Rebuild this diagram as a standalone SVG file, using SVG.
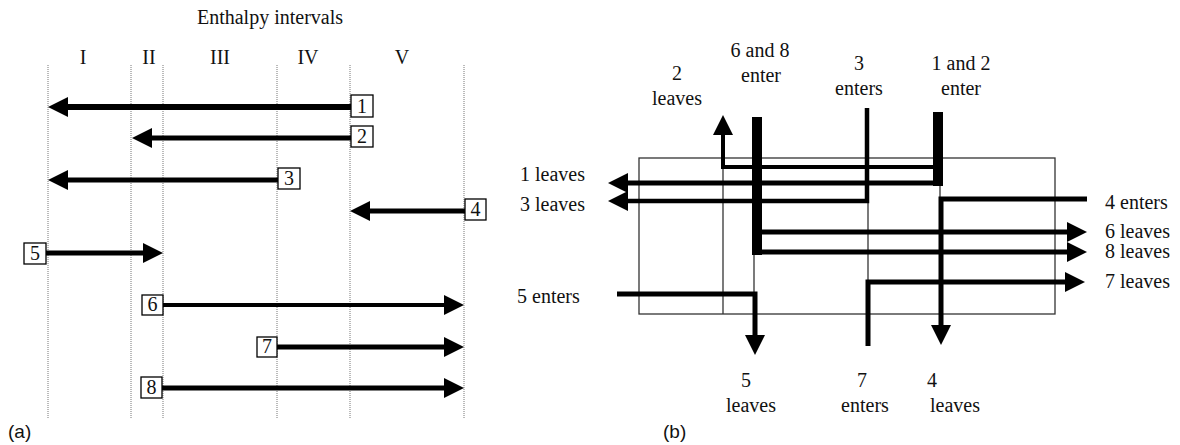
<svg xmlns="http://www.w3.org/2000/svg" width="1180" height="445" viewBox="0 0 1180 445">
<style>
.t{font-family:"Liberation Serif","Times New Roman",serif;font-size:20px;fill:#111}
.m{text-anchor:middle}
.e{text-anchor:end}
.lab{font-family:"Liberation Sans",Arial,sans-serif;font-size:19px;fill:#111}
.dot{stroke:#777;stroke-width:1;stroke-dasharray:1 1;fill:none}
.thin{stroke:#333;stroke-width:1.3;fill:none}
.s{stroke:#000;fill:none;stroke-linejoin:miter;stroke-linecap:butt}
.box{fill:#fff;stroke:#000;stroke-width:1.3}
</style>
<defs>
<marker id="ah" viewBox="0 0 20 20" markerWidth="20" markerHeight="20" refX="1" refY="10" orient="auto" markerUnits="userSpaceOnUse">
<path d="M0,0 L20,10 L0,20 Z" fill="#000"/>
</marker>
</defs>
<rect width="1180" height="445" fill="#fff"/>

<!-- Panel (a) -->
<g id="panel-a-grid">
<text class="t m" x="270" y="24">Enthalpy intervals</text>
<text class="t m" x="83" y="64">I</text>
<text class="t m" x="149" y="64">II</text>
<text class="t m" x="220" y="64">III</text>
<text class="t m" x="308" y="64">IV</text>
<text class="t m" x="402" y="64">V</text>
<line class="dot" x1="48" y1="65" x2="48" y2="418"/>
<line class="dot" x1="131" y1="65" x2="131" y2="418"/>
<line class="dot" x1="163" y1="65" x2="163" y2="418"/>
<line class="dot" x1="277" y1="65" x2="277" y2="418"/>
<line class="dot" x1="350" y1="65" x2="350" y2="418"/>
<line class="dot" x1="464" y1="65" x2="464" y2="418"/>
</g>
<g id="connectors-a">
<line class="s" x1="351" y1="107" x2="67" y2="107" stroke-width="6" marker-end="url(#ah)"/>
<line class="s" x1="351" y1="138" x2="151" y2="138" stroke-width="5" marker-end="url(#ah)"/>
<line class="s" x1="278" y1="180" x2="67" y2="180" stroke-width="5" marker-end="url(#ah)"/>
<line class="s" x1="465" y1="211" x2="369" y2="211" stroke-width="5" marker-end="url(#ah)"/>
<line class="s" x1="46" y1="253" x2="144" y2="253" stroke-width="5" marker-end="url(#ah)"/>
<line class="s" x1="163" y1="305" x2="445" y2="305" stroke-width="4" marker-end="url(#ah)"/>
<line class="s" x1="277" y1="347" x2="445" y2="347" stroke-width="5" marker-end="url(#ah)"/>
<line class="s" x1="162" y1="388" x2="445" y2="388" stroke-width="5" marker-end="url(#ah)"/>
</g>
<g id="stream-1"><rect class="box" x="351" y="95" width="22" height="22"/><text class="t m" x="362" y="113">1</text></g>
<g id="stream-2"><rect class="box" x="351" y="126" width="22" height="21"/><text class="t m" x="362" y="143">2</text></g>
<g id="stream-3"><rect class="box" x="278" y="168" width="22" height="21"/><text class="t m" x="289" y="185">3</text></g>
<g id="stream-4"><rect class="box" x="465" y="199" width="21" height="21"/><text class="t m" x="475.5" y="216">4</text></g>
<g id="stream-5"><rect class="box" x="24" y="243" width="22" height="21"/><text class="t m" x="35" y="260">5</text></g>
<g id="stream-6"><rect class="box" x="142" y="295" width="21" height="20"/><text class="t m" x="152.5" y="311">6</text></g>
<g id="stream-7"><rect class="box" x="257" y="337" width="20" height="20"/><text class="t m" x="267" y="353">7</text></g>
<g id="stream-8"><rect class="box" x="141" y="377" width="21" height="21"/><text class="t m" x="151.5" y="394">8</text></g>
<text class="lab" x="8" y="438">(a)</text>

<!-- Panel (b) -->
<g id="panel-b-frame">
<rect class="thin" x="639" y="158" width="416" height="156"/>
<line class="thin" x1="723" y1="158" x2="723" y2="314"/>
<line class="thin" x1="754" y1="158" x2="754" y2="314"/>
<line class="thin" x1="868" y1="158" x2="868" y2="314"/>
<line class="thin" x1="940" y1="158" x2="940" y2="314"/>
</g>
<g id="connectors-b">
<rect x="933" y="112" width="10" height="74" fill="#000"/>
<line class="s" x1="938" y1="183" x2="627" y2="183" stroke-width="5" marker-end="url(#ah)"/>
<polyline class="s" points="938,167 723,167 723,134" stroke-width="4" marker-end="url(#ah)"/>
<rect x="752" y="117" width="10" height="138" fill="#000"/>
<line class="s" x1="757" y1="232" x2="1068" y2="232" stroke-width="5" marker-end="url(#ah)"/>
<line class="s" x1="757" y1="252" x2="1068" y2="252" stroke-width="5" marker-end="url(#ah)"/>
<polyline class="s" points="867,108 867,201 627,201" stroke-width="4.5" marker-end="url(#ah)"/>
<polyline class="s" points="1087,199 941,199 941,326" stroke-width="5" marker-end="url(#ah)"/>
<polyline class="s" points="868,346 868,282 1066,282" stroke-width="5" marker-end="url(#ah)"/>
<polyline class="s" points="617,294 755,294 755,336" stroke-width="5" marker-end="url(#ah)"/>
</g>
<g id="labels-b">
<text class="t m" x="677" y="80">2</text>
<text class="t m" x="677" y="105">leaves</text>
<text class="t m" x="760" y="57">6 and 8</text>
<text class="t m" x="761" y="82">enter</text>
<text class="t m" x="859" y="70">3</text>
<text class="t m" x="859" y="95">enters</text>
<text class="t m" x="961" y="70">1 and 2</text>
<text class="t m" x="961" y="95">enter</text>
<text class="t e" x="585" y="181">1 leaves</text>
<text class="t e" x="585" y="211">3 leaves</text>
<text class="t" x="517" y="303">5 enters</text>
<text class="t" x="1105" y="209">4 enters</text>
<text class="t" x="1105" y="238">6 leaves</text>
<text class="t" x="1105" y="258">8 leaves</text>
<text class="t" x="1105" y="288">7 leaves</text>
<text class="t m" x="746" y="387">5</text>
<text class="t m" x="751" y="412">leaves</text>
<text class="t m" x="862" y="387">7</text>
<text class="t m" x="865" y="412">enters</text>
<text class="t" x="927" y="387">4</text>
<text class="t" x="930" y="412">leaves</text>
</g>
<text class="lab" x="663" y="438">(b)</text>
</svg>
